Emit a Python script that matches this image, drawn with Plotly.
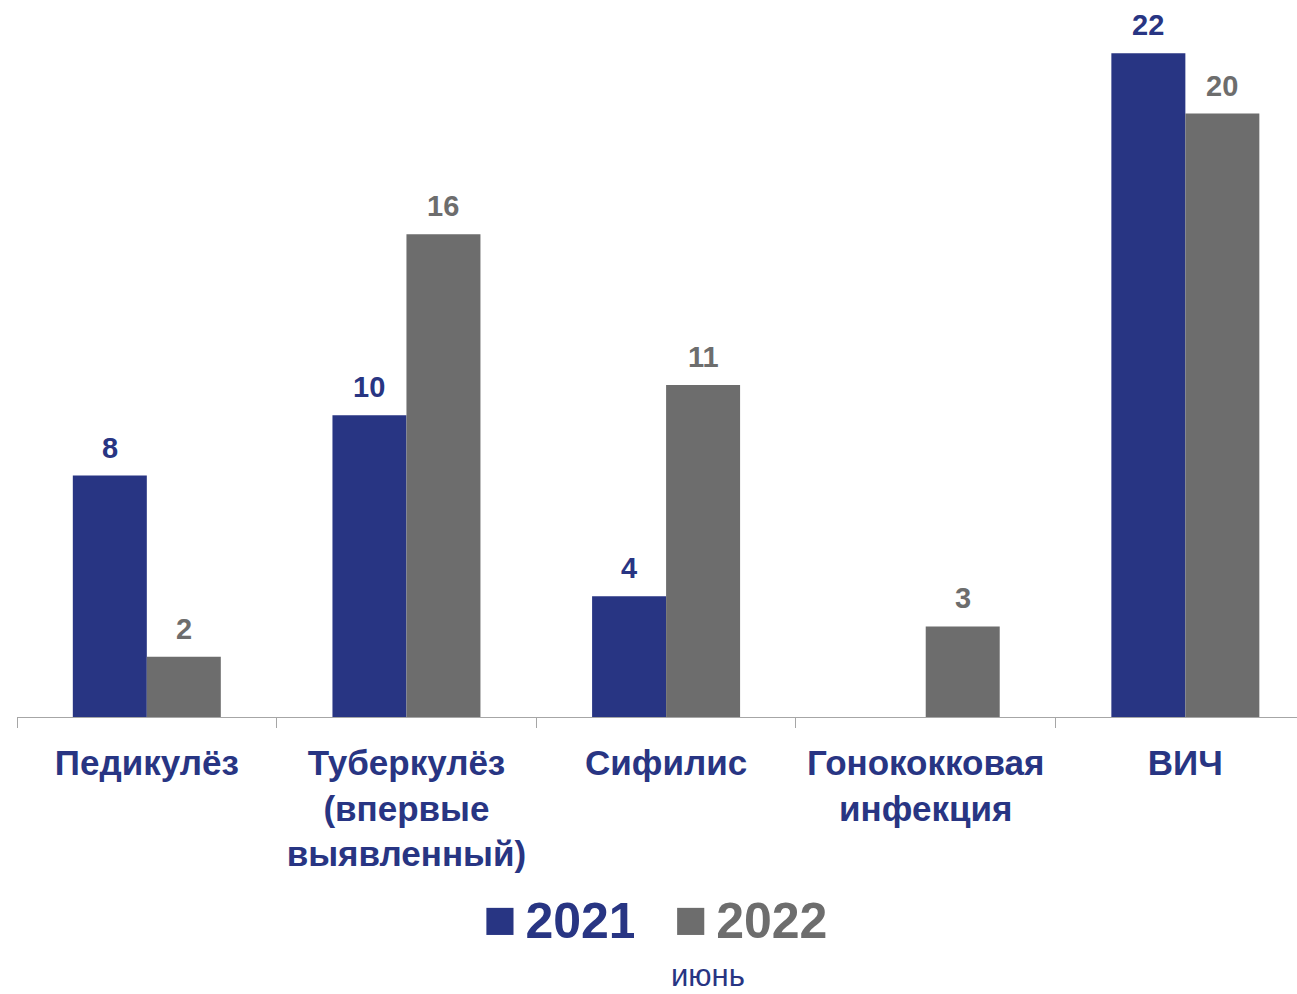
import plotly.graph_objects as go

categories = ["Педикулёз", "Туберкулёз<br>(впервые<br>выявленный)", "Сифилис",
              "Гонококковая<br>инфекция", "ВИЧ"]
values_2021 = [8, 10, 4, None, 22]
values_2022 = [2, 16, 11, 3, 20]
series_names = ["2021", "2022"]
footnote = "июнь"

NAVY = "#283583"
GRAY = "#6D6D6D"
FONT = "Liberation Sans, Arial, sans-serif"

bargap = 0.43
bar_w = (1 - bargap) / 2

fig = go.Figure()
for name, vals, col, lg in [(series_names[0], values_2021, NAVY, "legend"),
                            (series_names[1], values_2022, GRAY, "legend2")]:
    fig.add_trace(go.Bar(x=categories, y=vals, name=name, marker=dict(color=col, line=dict(width=0)),
                         showlegend=False))
    # legend entry (large square glyph + bold year)
    fig.add_trace(go.Scatter(x=[None], y=[None], mode="markers", legend=lg,
                             name=(f"<span style='color:{col}'><span style='font-size:56px'>■</span>"
                                   f"<span style='font-size:30px'> </span><b>{name}</b></span>"),
                             marker=dict(symbol="square", size=1, color="rgba(0,0,0,0)"), showlegend=True))

annotations = []
for vals, col, sign in [(values_2021, NAVY, -1), (values_2022, GRAY, 1)]:
    for i, v in enumerate(vals):
        if v is None:
            continue
        annotations.append(dict(x=i + sign * bar_w / 2, y=v, xref="x", yref="y", text=f"<b>{v}</b>",
                                showarrow=False, yanchor="middle", yshift=28,
                                font=dict(family=FONT, size=29, color=col)))
annotations.append(dict(x=0.5398, y=-0.399, xref="paper", yref="paper", text=footnote, showarrow=False,
                        xanchor="center", yanchor="bottom", borderpad=0,
                        font=dict(family=FONT, size=31, color=NAVY)))

legend_common = dict(orientation="h", xanchor="left", y=-0.29, yanchor="middle",
                     font=dict(family=FONT, size=50), itemsizing="constant")

fig.update_layout(
    width=1297, height=994,
    margin=dict(l=17, r=0, t=23, b=277),
    paper_bgcolor="white", plot_bgcolor="white",
    barmode="group", bargap=bargap, bargroupgap=0,
    font=dict(family=FONT, color=NAVY),
    legend=dict(x=0.333, **legend_common),
    legend2=dict(x=0.482, **legend_common),
    annotations=annotations,
    xaxis=dict(type="category", range=[-0.5, 4.43], showline=True, linecolor="#A6A6A6", linewidth=1,
               ticks="outside", tickson="boundaries", ticklen=10, tickcolor="#A6A6A6",
               tickfont=dict(family=FONT, size=35, color=NAVY, weight="bold"),
               ticklabelstandoff=15, showgrid=False, zeroline=False),
    yaxis=dict(range=[0, 23], showticklabels=False, showgrid=False, zeroline=False, showline=False,
               ticks=""),
)
fig.write_html("out.html", post_script="document.body.style.margin='0';",
               config={"displayModeBar": False})
